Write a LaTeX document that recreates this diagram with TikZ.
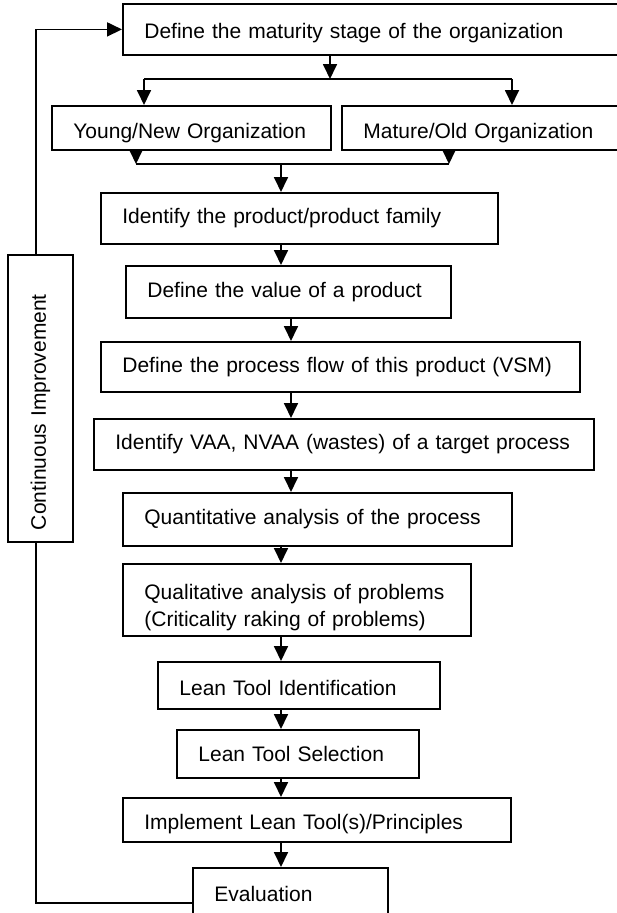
\documentclass[tikz,border=0pt]{standalone}
\usepackage{fontspec}
\setmainfont{Liberation Sans}
\usetikzlibrary{arrows.meta}

\begin{document}
\begin{tikzpicture}[x=1pt,y=-1pt,>={Triangle[length=15pt,width=14pt]},line join=miter,
    stepbox/.style={draw,line width=1.8pt,anchor=north west,align=left,inner xsep=21.5pt,inner ysep=0pt,
      font=\fontsize{21}{27}\selectfont},
    link/.style={line width=1.8pt}]
    \useasboundingbox (0,0) rectangle (617,913);
    \clip (0,0) rectangle (617,913);
    \coordinate (split) at (330,79);
    \coordinate (lsplit) at (144,79);
    \coordinate (rsplit) at (512,79);
    \coordinate (ljoin) at (136,164);
    \coordinate (rjoin) at (449,164);
    \coordinate (join) at (281,164);
    \coordinate (axis) at (281,0);
    \coordinate (axisb) at (291,0);
    \coordinate (back) at (36,903);

    \node[stepbox,text width=460pt,minimum height=51pt,text height=22pt] (stage) at (122,3) {Define the maturity stage of the organization};
    \node[stepbox,text width=236pt,minimum height=44pt,text height=25pt] (young) at (51,105) {Young/New Organization};
    \node[stepbox,text width=241pt,minimum height=44pt,text height=25pt] (mature) at (341,105) {Mature/Old Organization};
    \node[stepbox,text width=354pt,minimum height=51pt] (product) at (100,192) {Identify the product/product family};
    \node[stepbox,text width=282pt,minimum height=52pt] (value) at (125,265) {Define the value of a product};
    \node[stepbox,text width=436pt,minimum height=50pt] (flow) at (100,341) {Define the process flow of this product (VSM)};
    \node[stepbox,text width=457pt,minimum height=51pt] (waste) at (93,418) {Identify VAA, NVAA (wastes) of a target process};
    \node[stepbox,text width=346pt,minimum height=53pt] (quant) at (122,492) {Quantitative analysis of the process};
    \node[stepbox,text width=305pt,minimum height=72pt,text height=31pt] (qual) at (122,563) {Qualitative analysis of problems\\(Criticality raking of problems)};
    \node[stepbox,text width=239pt,minimum height=47pt,text height=19.5pt] (leanid) at (157,661) {Lean Tool Identification};
    \node[stepbox,text width=199pt,minimum height=48pt] (leansel) at (176,729) {Lean Tool Selection};
    \node[stepbox,text width=345pt,minimum height=44pt,text height=24pt] (impl) at (122,797) {Implement Lean Tool(s)/Principles};
    \node[stepbox,text width=152pt,minimum height=52pt] (eval) at (192,867) {Evaluation};
    \node[stepbox,rotate=90,anchor=center,text width=263pt,inner xsep=12pt,minimum height=65pt] (ci) at (40.5,398.5) {Continuous Improvement};

    \draw[link,->] (stage.south -| split) -- (split);
    \draw[link] (lsplit) -- (rsplit);
    \draw[link,->] (lsplit) -- (lsplit |- young.north);
    \draw[link,->] (rsplit) -- (rsplit |- mature.north);

    \draw[link,->] (ljoin |- young.south) -- (ljoin);
    \draw[link,->] (rjoin |- mature.south) -- (rjoin);
    \draw[link] (ljoin) -- (rjoin);
    \draw[link,->] (join) -- (join |- product.north);

    \draw[link,->] (product.south -| axis) -- (value.north -| axis);
    \draw[link,->] (value.south -| axisb) -- (flow.north -| axisb);
    \draw[link,->] (flow.south -| axisb) -- (waste.north -| axisb);
    \draw[link,->] (waste.south -| axisb) -- (quant.north -| axisb);
    \draw[link,->] (quant.south -| axis) -- (qual.north -| axis);
    \draw[link,->] (qual.south -| axis) -- (leanid.north -| axis);
    \draw[link,->] (leanid.south -| axis) -- (leansel.north -| axis);
    \draw[link,->] (leansel.south -| axis) -- (impl.north -| axis);
    \draw[link,->] (impl.south -| axis) -- (eval.north -| axis);

    \draw[link] (back -| eval.west) -- (back) -- (back |- ci.west);
    \draw[link,->] (back |- ci.east) |- (stage.west);
  \end{tikzpicture}
\end{document}
